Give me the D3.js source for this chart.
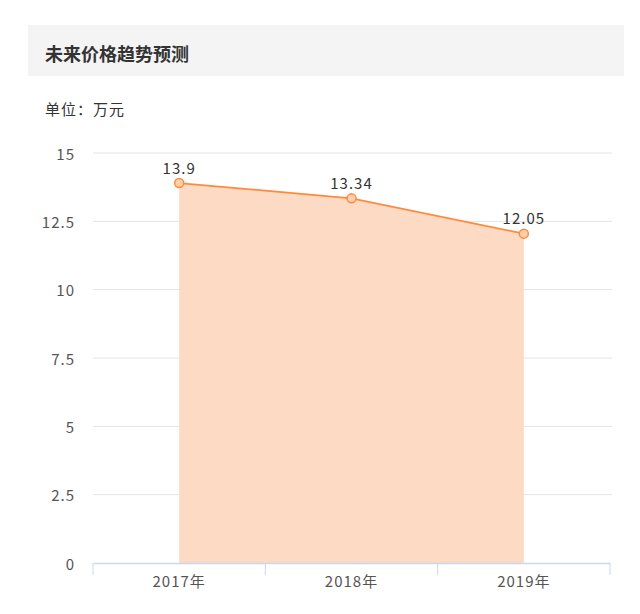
<!DOCTYPE html>
<html>
<head>
<meta charset="utf-8">
<script src="https://cdn.jsdelivr.net/npm/d3@7"></script>
<style>
body { margin: 0; background: #fff; }
svg text { font-family: "Noto Sans CJK SC", "Open Sans", sans-serif; }
</style>
</head>
<body>
<svg id="chart" width="640" height="614"></svg>
<script>
// chart data
var years = ['2017年', '2018年', '2019年'];
var prices = [13.9, 13.34, 12.05];
var yTicks = [0, 2.5, 5, 7.5, 10, 12.5, 15];

var svg = d3.select('#chart');

// header band
svg.append('rect')
    .attr('x', 28).attr('y', 25)
    .attr('width', 596).attr('height', 51)
    .attr('fill', '#f4f4f4');
svg.append('text')
    .attr('x', 45).attr('y', 53)
    .attr('dominant-baseline', 'central')
    .attr('font-size', 18).attr('font-weight', 'bold')
    .attr('fill', '#333')
    .text('未来价格趋势预测');
svg.append('text')
    .attr('x', 45).attr('y', 108)
    .attr('dominant-baseline', 'central')
    .attr('font-size', 15)
    .attr('letter-spacing', 1)
    .attr('fill', '#333')
    .text('单位：万元');

var plotLeft = 93, plotRight = 610, plotTop = 153, plotBottom = 563;

var x = d3.scaleBand().domain(years).range([plotLeft, plotRight]);
var y = d3.scaleLinear().domain([0, 15]).range([plotBottom, plotTop]);

// grid lines
svg.append('g').selectAll('line')
    .data(yTicks.filter(function (d) { return d > 0; }))
    .join('line')
    .attr('x1', plotLeft).attr('x2', plotRight + 2)
    .attr('y1', function (d) { return y(d); })
    .attr('y2', function (d) { return y(d); })
    .attr('stroke', '#e4e4e4').attr('stroke-width', 1);

// y labels
svg.append('g').selectAll('text')
    .data(yTicks)
    .join('text')
    .attr('x', 75)
    .attr('y', function (d) { return y(d); })
    .attr('dominant-baseline', 'central')
    .attr('text-anchor', 'end')
    .attr('font-size', 15)
    .attr('letter-spacing', 1)
    .attr('fill', '#555')
    .text(function (d) { return d; });

var cx = function (d, i) { return x(years[i]) + x.bandwidth() / 2; };

// area + line
var area = d3.area()
    .x(cx)
    .y0(y(0))
    .y1(function (d) { return y(d); });
svg.append('path')
    .datum(prices)
    .attr('d', area)
    .attr('fill', '#fddac4');

var line = d3.line()
    .x(cx)
    .y(function (d) { return y(d); });
svg.append('path')
    .datum(prices)
    .attr('d', line)
    .attr('fill', 'none')
    .attr('stroke', '#ff8a3c')
    .attr('stroke-width', 1.8);

// x axis
var xAxis = d3.axisBottom(x).tickSize(0).tickPadding(13);
var gx = svg.append('g')
    .attr('transform', 'translate(0,' + plotBottom + ')')
    .call(xAxis);
gx.select('.domain').attr('stroke', '#c9d8ea').attr('stroke-width', 1.5);
gx.selectAll('text')
    .attr('font-size', 15)
    .attr('letter-spacing', 1)
    .attr('fill', '#555');
// category separators
var seps = years.map(function (d) { return x(d); }).concat([plotRight]);
gx.selectAll('line.sep')
    .data(seps)
    .join('line')
    .attr('class', 'sep')
    .attr('x1', function (d) { return d; })
    .attr('x2', function (d) { return d; })
    .attr('y1', 0).attr('y2', 12)
    .attr('stroke', '#c9d8ea');

// markers
svg.append('g').selectAll('circle')
    .data(prices)
    .join('circle')
    .attr('cx', cx)
    .attr('cy', function (d) { return y(d); })
    .attr('r', 4.5)
    .attr('fill', '#fdcfae')
    .attr('stroke', '#ff8a3c')
    .attr('stroke-width', 1.5);

// value labels
svg.append('g').selectAll('text')
    .data(prices)
    .join('text')
    .attr('x', cx)
    .attr('y', function (d) { return y(d) - 16; })
    .attr('dominant-baseline', 'central')
    .attr('text-anchor', 'middle')
    .attr('font-size', 15)
    .attr('letter-spacing', 1)
    .attr('fill', '#333')
    .text(function (d) { return d; });
</script>
</body>
</html>
